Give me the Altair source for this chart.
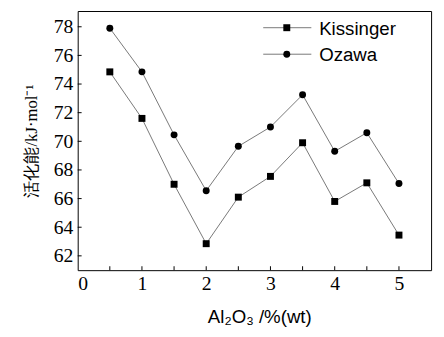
import altair as alt
import pandas as pd

al2o3 = [0.5, 1.0, 1.5, 2.0, 2.5, 3.0, 3.5, 4.0, 4.5, 5.0]
kissinger = [74.85, 71.6, 67.0, 62.85, 66.1, 67.55, 69.9, 65.8, 67.1, 63.45]
ozawa = [77.9, 74.85, 70.45, 66.55, 69.65, 71.0, 73.25, 69.3, 70.6, 67.05]
series_names = ["Kissinger", "Ozawa"]
x_tick_vals = [0.5, 1.0, 1.5, 2.0, 2.5, 3.0, 3.5, 4.0, 4.5, 5.0]
x_label_vals = [0, 1, 2, 3, 4, 5]
y_tick_vals = [62, 64, 66, 68, 70, 72, 74, 76, 78]

W, H = 360, 264

df = pd.DataFrame({
    "x": al2o3 * 2,
    "y": kissinger + ozawa,
    "s": [series_names[0]] * len(al2o3) + [series_names[1]] * len(al2o3),
})

xs = alt.Scale(domain=[0, 5.5], nice=False, zero=False)
ys = alt.Scale(domain=[61, 79.1], nice=False, zero=False)

serif = "Liberation Serif"
sans = "Liberation Sans"

x_axis = alt.Axis(
    values=x_label_vals, format="d", ticks=False, domain=False, grid=False,
    labelFont=serif, labelFontSize=20, labelColor="black", labelPadding=4,
    labelOverlap=False,
    title="Al\u2082O\u2083 /%(wt)", titleFont=sans, titleFontSize=19,
    titleFontWeight="normal", titleColor="black", titlePadding=14,
    titleX=185, titleAlign="center")
y_axis = alt.Axis(
    values=y_tick_vals, ticks=False, domain=False, grid=False,
    labelFont=serif, labelFontSize=20, labelColor="black", labelPadding=5,
    labelOverlap=False,
    title="活化能/kJ·mol\u207b\u00b9", titleFont=serif, titleFontSize=17,
    titleFontWeight="normal", titleColor="black", titlePadding=13)


def X(field):
    return alt.X(field, scale=xs, axis=x_axis)


def Y(field):
    return alt.Y(field, scale=ys, axis=y_axis)


lines = alt.Chart(df).mark_line(color="#777777", strokeWidth=1).encode(
    x=X("x:Q"), y=Y("y:Q"), detail="s:N")

shape_scale = alt.Scale(domain=series_names, range=["square", "circle"])
points = alt.Chart(df).mark_point(filled=True, color="black", opacity=1, size=50).encode(
    x=X("x:Q"), y=Y("y:Q"),
    shape=alt.Shape("s:N", scale=shape_scale, legend=None))

xt = alt.Chart(pd.DataFrame({"x": x_tick_vals})).mark_rule(color="black", strokeWidth=1).encode(
    x=X("x:Q"), y=alt.value(H), y2=alt.value(H - 4))
yt = alt.Chart(pd.DataFrame({"y": y_tick_vals})).mark_rule(color="black", strokeWidth=1).encode(
    y=Y("y:Q"), x=alt.value(0), x2=alt.value(4))

legend_layers = []
for name, shp, ly in [(series_names[0], "square", 17), (series_names[1], "circle", 44)]:
    ldf = pd.DataFrame({"s": [name]})
    legend_layers.append(alt.Chart(ldf).mark_rule(color="#777777", strokeWidth=1).encode(
        x=alt.value(189), x2=alt.value(238), y=alt.value(ly)))
    legend_layers.append(alt.Chart(ldf).mark_point(filled=True, color="black", opacity=1,
                                                    size=50, shape=shp).encode(
        x=alt.value(213), y=alt.value(ly)))
    legend_layers.append(alt.Chart(ldf).mark_text(align="left", baseline="middle", font=sans,
                                                   fontSize=19, color="black").encode(
        x=alt.value(246), y=alt.value(ly + 1), text="s:N"))

chart = alt.layer(lines, points, xt, yt, *legend_layers).properties(
    width=W, height=H,
    background="white",
    autosize=alt.AutoSizeParams(type="none"),
    padding={"left": 71, "top": 0, "right": 5, "bottom": 65},
).configure_view(stroke="black", strokeWidth=1)

chart.save("out.html", embed_options={"renderer": "svg", "actions": False})
